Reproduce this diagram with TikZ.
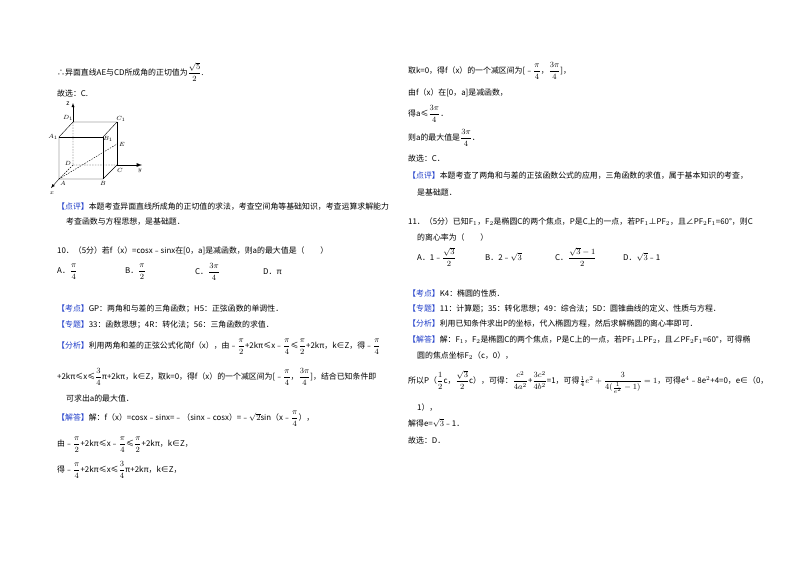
\documentclass[tikz,border=0pt]{standalone}
\usepackage{fontspec}
\usepackage{amsmath,amssymb}
\setmainfont{Noto Sans CJK SC}
\definecolor{lblue}{RGB}{30,60,200}
\newcommand{\lbk}[1]{{\color{lblue}【#1】}}
\newcommand{\fr}[2]{\ensuremath{\dfrac{#1}{#2}}}
\begin{document}
\begin{tikzpicture}[x=1pt,y=-1pt,every node/.style={anchor=west,inner sep=0pt,font=\fontsize{7.9}{9}\selectfont},
 thk/.style={line width=0.9pt}, thn/.style={line width=0.4pt}, dsh/.style={line width=0.4pt,dash pattern=on 1.5pt off 1.2pt},
 lab/.style={anchor=center,font=\fontsize{6.5}{7}\itshape}]
\useasboundingbox (0,0) rectangle (800,565);
% left column
\node (l1) at (57,72) {∴异面直线AE与CD所成角的正切值为\fr{\sqrt5}{2}.};
\node (l2) at (57,93) {故选：C.};
% cube
\coordinate (D1) at (73,122); \coordinate (C1) at (117,122);
\coordinate (A1) at (59,137); \coordinate (B1) at (103,137);
\coordinate (D) at (73,165); \coordinate (C) at (117,165);
\coordinate (A) at (59,179); \coordinate (B) at (103,179);
\coordinate (E) at (117,144);
\coordinate (zt) at (73,103); \coordinate (yt) at (142,165); \coordinate (xt) at (51,188);
\draw[thn,-latex] (D1) -- (zt);
\draw[thn] (D1)--(C1)--(B1) (D1)--(A1)--(A)--(B)--(C);
\draw[thk] (A1)--(B1)--(B) (C1)--(C);
\draw[thk,-latex] (C)--(yt);
\draw[dsh] (D1)--(D)--(C) (D)--(A) (A)--(E);
\draw[thn,-latex] (A)--(xt);
\node[lab] (nz) at (68,104) {z};
\node[lab] (nD1) at (68,118) {$D_1$};
\node[lab] (nC1) at (121,119) {$C_1$};
\node[lab] (nA1) at (53,137) {$A_1$};
\node[lab] (nB1) at (108,139) {$B_1$};
\node[lab] (nE) at (122,144) {$E$};
\node[lab] (nD) at (68,163) {$D$};
\node[lab] (nC) at (120,170) {$C$};
\node[lab] (ny) at (140,171) {$y$};
\node[lab] (nA) at (63,183) {$A$};
\node[lab] (nB) at (103,183) {$B$};
\node[lab] (nx) at (52,193) {$x$};
\node (l3) at (57,207) {\lbk{点评}本题考查异面直线所成角的正切值的求法，考查空间角等基础知识，考查运算求解能力};
\node (l4) at (66,222) {考查函数与方程思想，是基础题．};
\node (l5) at (57,251) {10．（5分）若f（x）=cosx﹣sinx在[0，a]是减函数，则a的最大值是（\quad\quad）};
\node (oA) at (57,272) {A．\fr{\pi}{4}};
\node (oB) at (125,272) {B．\fr{\pi}{2}};
\node (oC) at (195,272) {C．\fr{3\pi}{4}};
\node (oD) at (263,272) {D．π};
\node (l6) at (57,309) {\lbk{考点}GP：两角和与差的三角函数；H5：正弦函数的单调性．};
\node (l7) at (57,325) {\lbk{专题}33：函数思想；4R：转化法；56：三角函数的求值．};
\node (l8) at (57,347) {\lbk{分析}利用两角和差的正弦公式化简f（x），由﹣\fr{\pi}{2}+2kπ≤x﹣\fr{\pi}{4}≤\fr{\pi}{2}+2kπ，k∈Z，得﹣\fr{\pi}{4}};
\node (l9) at (57,377) {+2kπ≤x≤\fr{3}{4}π+2kπ，k∈Z，取k=0，得f（x）的一个减区间为[﹣\fr{\pi}{4}，\fr{3\pi}{4}]，结合已知条件即};
\node (l10) at (66,398) {可求出a的最大值．};
\node (l11) at (57,419) {\lbk{解答}解：f（x）=cosx﹣sinx=﹣（sinx﹣cosx）=﹣$\sqrt2$sin（x﹣\fr{\pi}{4}），};
\node (l12) at (57,445) {由﹣\fr{\pi}{2}+2kπ≤x﹣\fr{\pi}{4}≤\fr{\pi}{2}+2kπ，k∈Z，};
\node (l13) at (57,470) {得﹣\fr{\pi}{4}+2kπ≤x≤\fr{3}{4}π+2kπ，k∈Z，};
% right column
\node (r1) at (408,71) {取k=0，得f（x）的一个减区间为[﹣\fr{\pi}{4}，\fr{3\pi}{4}]，};
\node (r2) at (408,93) {由f（x）在[0，a]是减函数，};
\node (r3) at (408,114) {得a≤\fr{3\pi}{4}．};
\node (r4) at (408,138) {则a的最大值是\fr{3\pi}{4}．};
\node (r5) at (408,158) {故选：C．};
\node (r6) at (408,176) {\lbk{点评}本题考查了两角和与差的正弦函数公式的应用，三角函数的求值，属于基本知识的考查，};
\node (r7) at (417,192) {是基础题．};
\node (r8) at (408,222) {11．（5分）已知F$_1$，F$_2$是椭圆C的两个焦点，P是C上的一点，若PF$_1$⊥PF$_2$，且∠PF$_2$F$_1$=60°，则C};
\node (r9) at (417,237) {的离心率为（\quad\quad）};
\node (pA) at (417,257) {A．1﹣\fr{\sqrt3}{2}};
\node (pB) at (485,257) {B．2﹣$\sqrt3$};
\node (pC) at (555,257) {C．\fr{\sqrt3-1}{2}};
\node (pD) at (623,257) {D．$\sqrt3$﹣1};
\node (r10) at (408,293) {\lbk{考点}K4：椭圆的性质．};
\node (r11) at (408,309) {\lbk{专题}11：计算题；35：转化思想；49：综合法；5D：圆锥曲线的定义、性质与方程．};
\node (r12) at (408,324) {\lbk{分析}利用已知条件求出P的坐标，代入椭圆方程，然后求解椭圆的离心率即可．};
\node (r13) at (408,340) {\lbk{解答}解：F$_1$，F$_2$是椭圆C的两个焦点，P是C上的一点，若PF$_1$⊥PF$_2$，且∠PF$_2$F$_1$=60°，可得椭};
\node (r14) at (417,356) {圆的焦点坐标F$_2$（c，0），};
\node (r15) at (408,382) {所以P（\fr{1}{2}c，\fr{\sqrt3}{2}c），可得：\fr{c^2}{4a^2}+\fr{3c^2}{4b^2}=1，可得$\frac14e^2+\dfrac{3}{4(\frac{1}{e^2}-1)}=1$，可得e$^4$﹣8e$^2$+4=0，e∈（0，};
\node (r16) at (417,408) {1），};
\node (r17) at (408,423) {解得e=$\sqrt3$﹣1．};
\node (r18) at (408,440) {故选：D．};
\end{tikzpicture}
\end{document}
